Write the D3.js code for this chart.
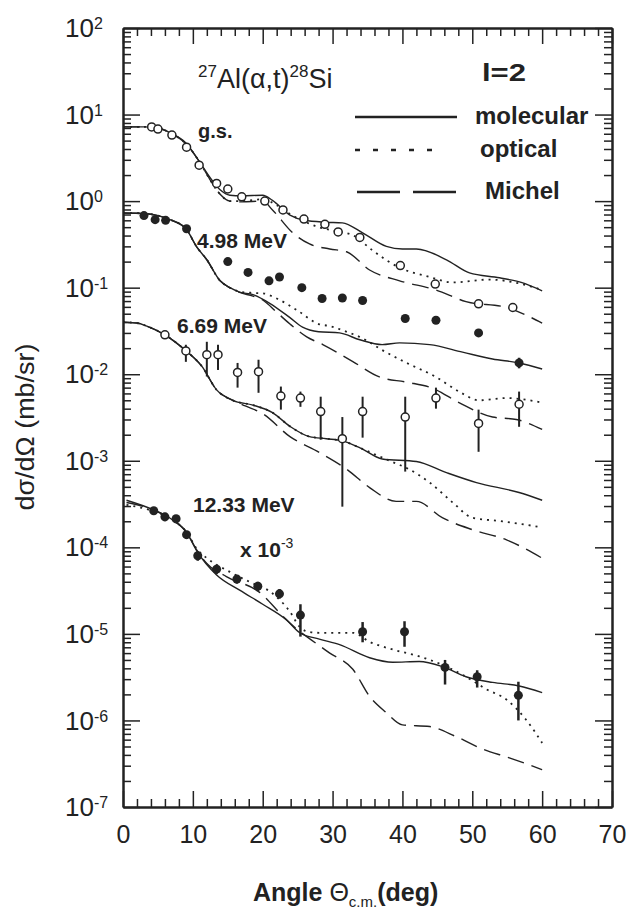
<!DOCTYPE html>
<html>
<head>
<meta charset="utf-8">
<script src="https://cdn.jsdelivr.net/npm/d3@7"></script>
<style>
body { margin: 0; background: #fff; }
svg { display: block; font-family: "Liberation Sans", Arial, sans-serif; }
</style>
</head>
<body>
<div id="chart-area"></div>
<script>
// DATA (angle in deg, cross section in mb/sr)
var gsAng = [4.1, 5, 7, 9.1, 10.9, 13.4, 15, 17, 20.3, 22.9, 25.9, 28.9, 30.8, 33.9, 39.7, 44.7, 50.9, 55.8];
var gsVal = [7.2, 6.8, 5.8, 4.2, 2.6, 1.6, 1.38, 1.12, 1.0, 0.79, 0.62, 0.54, 0.44, 0.38, 0.18, 0.11, 0.065, 0.059];

var m498Ang = [3, 4.6, 6.1, 9.1, 15, 17.9, 20.9, 22.4, 25.6, 28.5, 31.4, 34.3, 40.4, 44.8, 50.9, 56.7];
var m498Val = [0.68, 0.61, 0.6, 0.48, 0.2, 0.15, 0.12, 0.133, 0.1, 0.075, 0.076, 0.071, 0.044, 0.042, 0.03, 0.0135];
var m498Lo = [null, null, null, null, null, null, null, null, null, null, null, null, null, null, null, 0.0117];
var m498Hi = [null, null, null, null, null, null, null, null, null, null, null, null, null, null, null, 0.0155];

var m669Ang = [6, 9, 12, 13.6, 16.4, 19.4, 22.6, 25.4, 28.3, 31.4, 34.3, 40.4, 44.8, 50.9, 56.7];
var m669Val = [0.0285, 0.0186, 0.0168, 0.0168, 0.0105, 0.0107, 0.0056, 0.0053, 0.0037, 0.0018, 0.0037, 0.0032, 0.0053, 0.0027, 0.0045];
var m669Lo = [0.026, 0.0139, 0.0094, 0.0112, 0.0070, 0.0061, 0.0039, 0.0042, 0.00175, 0.000295, 0.00185, 0.00075, 0.0040, 0.00127, 0.00247];
var m669Hi = [0.031, 0.0219, 0.0237, 0.0219, 0.0135, 0.0147, 0.0072, 0.0063, 0.0055, 0.0032, 0.0055, 0.0055, 0.0070, 0.0039, 0.0063];

var m1233Ang = [4.4, 6, 7.6, 9.1, 10.7, 13.4, 16.3, 19.3, 22.4, 25.4, 34.3, 40.3, 46.1, 50.7, 56.6];
var m1233Val = [0.000265, 0.000225, 0.000214, 0.00014, 8e-5, 5.6e-5, 4.3e-5, 3.55e-5, 2.9e-5, 1.65e-5, 1.06e-5, 1.06e-5, 4.1e-6, 3.2e-6, 1.95e-6];
var m1233Lo = [0.00024, 0.0002, 0.00019, 0.000125, 7e-5, 4.9e-5, 3.8e-5, 3.1e-5, 2.55e-5, 9.3e-6, 8.0e-6, 7.1e-6, 2.6e-6, 2.4e-6, 1.0e-6];
var m1233Hi = [0.00029, 0.00025, 0.000235, 0.000155, 9e-5, 6.3e-5, 4.8e-5, 4.0e-5, 3.3e-5, 2.2e-5, 1.37e-5, 1.4e-5, 5.0e-6, 3.8e-6, 2.8e-6];

// calculated curves [angle, value]
var gsMol = [[0, 7.2], [3, 7.2], [5, 7.0], [7, 6.0], [9, 4.7], [11, 2.8], [12.4, 1.9], [13.9, 1.35], [15.3, 1.17], [17, 1.15], [20, 1.17], [21.4, 1.02], [23.9, 0.69], [26, 0.6], [29, 0.57], [31.4, 0.56], [34.3, 0.43], [37.7, 0.30], [40, 0.28], [42, 0.28], [46.3, 0.21], [49.6, 0.148], [53.9, 0.13], [57, 0.115], [60, 0.092]];
var gsOpt = [[0, 7.2], [3, 7.2], [5, 7.0], [7, 6.0], [9, 4.6], [11, 2.8], [12.4, 1.8], [13.9, 1.2], [15.3, 1.0], [17, 1.0], [20, 1.05], [22, 0.9], [24, 0.7], [26, 0.58], [28, 0.5], [30.5, 0.45], [33, 0.4], [35.7, 0.27], [39.6, 0.17], [43.9, 0.133], [47.1, 0.115], [52.4, 0.124], [56.7, 0.112], [60, 0.094]];
var gsMic = [[0, 7.2], [3, 7.2], [5, 7.0], [7, 6.0], [9, 4.6], [11, 2.8], [12.4, 1.8], [13.9, 1.2], [15.3, 1.0], [17, 0.98], [20, 1.0], [21.4, 0.79], [24.3, 0.43], [26.7, 0.32], [29.6, 0.28], [32, 0.26], [35.3, 0.16], [39.6, 0.12], [44.8, 0.094], [49.1, 0.069], [54.9, 0.059], [60, 0.039]];

var m498Mol = [[0, 0.73], [3, 0.72], [5, 0.68], [7, 0.6], [9.1, 0.47], [10.5, 0.3], [12, 0.21], [13.9, 0.12], [15.3, 0.1], [16.7, 0.089], [18.6, 0.083], [21, 0.066], [23.9, 0.045], [25.7, 0.035], [28, 0.031], [31, 0.030], [33.9, 0.025], [37.1, 0.022], [39.6, 0.023], [43.9, 0.022], [48.6, 0.018], [52.9, 0.015], [56.7, 0.0135], [60, 0.0115]];
var m498Opt = [[0, 0.73], [3, 0.72], [5, 0.68], [7, 0.6], [9.1, 0.47], [10.5, 0.3], [12, 0.21], [13.9, 0.12], [15.3, 0.1], [16.7, 0.09], [18.6, 0.087], [20, 0.086], [22, 0.075], [24.9, 0.055], [28, 0.038], [29.6, 0.036], [31.5, 0.032], [34.3, 0.026], [37.1, 0.019], [40.6, 0.0135], [44.8, 0.0093], [48.1, 0.0063], [51, 0.005], [54.9, 0.0053], [60, 0.0047]];
var m498Mic = [[0, 0.73], [3, 0.72], [5, 0.68], [7, 0.6], [9.1, 0.47], [10.5, 0.3], [12, 0.21], [13.9, 0.12], [15.3, 0.1], [16.7, 0.088], [18.6, 0.08], [20, 0.072], [22, 0.052], [23.9, 0.038], [26.3, 0.027], [28.6, 0.022], [32.9, 0.014], [36.7, 0.0093], [40.6, 0.0081], [44.3, 0.0069], [48.1, 0.0047], [52.9, 0.0032], [56.3, 0.003], [60, 0.0023]];

var m669Mol = [[0, 0.040], [2, 0.039], [3.4, 0.036], [6, 0.0285], [8.9, 0.019], [11.3, 0.0123], [13.4, 0.0066], [15.7, 0.005], [18.6, 0.0044], [21.4, 0.0036], [23.9, 0.0025], [26.7, 0.0019], [29.1, 0.0018], [31.4, 0.0017], [34, 0.0014], [37.1, 0.00105], [42, 0.00098], [46.3, 0.00073], [50.6, 0.00056], [56.7, 0.00043], [60, 0.00035]];
var m669Opt = [[0, 0.040], [2, 0.039], [3.4, 0.036], [6, 0.0285], [8.9, 0.019], [11.3, 0.0123], [13.4, 0.0066], [15.7, 0.005], [18.6, 0.0044], [21.4, 0.0036], [23.9, 0.0025], [26.7, 0.0019], [29.1, 0.0018], [31.4, 0.0017], [34, 0.0014], [38.4, 0.00098], [40.8, 0.00081], [43.9, 0.00056], [47.2, 0.00033], [50, 0.00022], [54.3, 0.0002], [60, 0.00017]];
var m669Mic = [[0, 0.040], [2, 0.039], [3.4, 0.036], [6, 0.0285], [8.9, 0.019], [11.3, 0.0123], [13.4, 0.0066], [15.7, 0.005], [17.5, 0.0043], [20, 0.0035], [23.9, 0.0019], [28.1, 0.00125], [32, 0.0008], [35.3, 0.00049], [39.1, 0.00034], [42, 0.00034], [45.7, 0.00022], [50, 0.00016], [54.9, 0.000122], [60, 7.5e-5]];

var m1233Mol = [[0.5, 0.00035], [4.4, 0.00027], [7, 0.00021], [9.1, 0.000148], [10.6, 9e-5], [13.4, 4.8e-5], [16.7, 3.2e-5], [20, 2.2e-5], [23.4, 1.45e-5], [25.3, 1.03e-5], [28.1, 8.7e-6], [31, 7.5e-6], [35.3, 5.3e-6], [38.6, 4.7e-6], [42.4, 4.8e-6], [45.7, 4.2e-6], [49.1, 3.2e-6], [52.9, 2.75e-6], [56.7, 2.5e-6], [60, 2.1e-6]];
var m1233Opt = [[0.5, 0.00031], [4.4, 0.00026], [7, 0.00021], [9.1, 0.00015], [10.6, 9.5e-5], [12.1, 7.4e-5], [15.3, 5.2e-5], [18.1, 4.0e-5], [21, 3.1e-5], [23.9, 1.8e-5], [25.3, 1.2e-5], [26.7, 1.05e-5], [28.1, 1.03e-5], [32.9, 1.03e-5], [35.3, 8.1e-6], [38.6, 6.6e-6], [42.4, 5.5e-6], [45.7, 4.4e-6], [49.1, 3.2e-6], [52, 2.3e-6], [54.9, 1.74e-6], [57.7, 1.02e-6], [60, 5.5e-7]];
var m1233Mic = [[0.5, 0.00033], [4.4, 0.00027], [7, 0.00021], [9.1, 0.00015], [10.6, 9.2e-5], [12, 6.5e-5], [14.8, 4.6e-5], [19.6, 3.0e-5], [22.9, 1.6e-5], [24.9, 1.13e-5], [26.3, 9.3e-6], [29.6, 6e-6], [32.9, 3.9e-6], [35.3, 1.9e-6], [37.7, 1.23e-6], [40, 8.9e-7], [43.9, 8.5e-7], [47.7, 6.5e-7], [51.4, 4.7e-7], [55.3, 3.7e-7], [60, 2.7e-7]];

var xMajor = [0, 10, 20, 30, 40, 50, 60, 70];
var yExp = [-7, -6, -5, -4, -3, -2, -1, 0, 1, 2];

//INITIAL SETUP
var margin = {top: 28, right: 17, bottom: 102, left: 123};
var width = 629 - margin.left - margin.right;
var height = 909 - margin.top - margin.bottom;
var ink = '#222';

var svg = d3.select('#chart-area')
	.append('svg')
	.attr('width', 629)
	.attr('height', 909);
var graph = svg.append('g')
	.attr('transform', 'translate(' + margin.left + ',' + margin.top + ')');

//SCALES
var x = d3.scaleLinear().domain([0, 70]).range([0, width]);
var y = d3.scaleLog().domain([1e-7, 1e2]).range([height, 0]);

var xMinor = d3.range(0, 71, 2).filter(function (d) { return d % 10 !== 0; });
var yMajor = yExp.map(function (p) { return Math.pow(10, p); });
var yMinor = [];
yExp.slice(0, -1).forEach(function (p) {
	for (var m = 2; m <= 9; m++) yMinor.push(m * Math.pow(10, p));
});

//FRAME AXES (ticks point inward)
function frame(axis, vals, size, tr) {
	var g = graph.append('g').attr('transform', tr)
		.call(axis.tickValues(vals).tickSize(size).tickSizeOuter(0).tickFormat(''));
	g.select('.domain').attr('stroke', ink).attr('stroke-width', 2);
	g.selectAll('.tick line').attr('stroke', ink).attr('stroke-width', 1.5);
}
frame(d3.axisRight(y), yMajor, 17, 'translate(0,0)');
frame(d3.axisRight(y), yMinor, 8, 'translate(0,0)');
frame(d3.axisLeft(y), yMajor, 17, 'translate(' + width + ',0)');
frame(d3.axisLeft(y), yMinor, 8, 'translate(' + width + ',0)');
frame(d3.axisBottom(x), xMajor, 16, 'translate(0,0)');
frame(d3.axisBottom(x), xMinor, 8, 'translate(0,0)');
frame(d3.axisTop(x), xMajor, 16, 'translate(0,' + height + ')');
frame(d3.axisTop(x), xMinor, 8, 'translate(0,' + height + ')');

//TICK LABELS
var xLab = graph.append('g')
	.attr('transform', 'translate(0,' + height + ')')
	.call(d3.axisBottom(x).tickValues(xMajor).tickSize(0).tickPadding(18));
xLab.select('.domain').remove();
xLab.selectAll('text').attr('font-size', '25px').attr('fill', ink)
	.attr('font-family', '"Liberation Sans", Arial, sans-serif');

var yLab = graph.selectAll('.ylab')
	.data(yExp)
	.enter()
	.append('text')
	.attr('class', 'ylab')
	.attr('x', -58)
	.attr('y', function (d) { return y(Math.pow(10, d)); })
	.attr('dy', '0.35em')
	.attr('fill', ink)
	.attr('font-size', '26px');
yLab.append('tspan').text('10');
yLab.append('tspan').attr('dy', -8).attr('font-size', '16px')
	.text(function (d) { return d < 0 ? '-' + (-d) : d; });

//AXIS TITLES
var xTitle = graph.append('text')
	.attr('x', 130)
	.attr('y', height + 94)
	.attr('font-size', '25px')
	.attr('font-weight', 'bold')
	.attr('fill', ink);
xTitle.append('tspan').text('Angle ');
xTitle.append('tspan').attr('font-weight', 'normal').text('\u0398');
xTitle.append('tspan').attr('dy', 6).attr('font-size', '15px').attr('font-weight', 'normal').text('c.m.');
xTitle.append('tspan').attr('dy', -6).text('(deg)');

graph.append('text')
	.attr('transform', 'translate(-89,' + 399 + ') rotate(-90)')
	.attr('text-anchor', 'middle')
	.attr('font-size', '26px')
	.attr('fill', ink)
	.attr('textLength', 167)
	.attr('lengthAdjust', 'spacingAndGlyphs')
	.text('d\u03c3/d\u03a9 (mb/sr)');

//CURVES
var line = d3.line()
	.x(function (d) { return x(d[0]); })
	.y(function (d) { return y(d[1]); })
	.curve(d3.curveMonotoneX);

var styles = {mol: null, opt: '2,5', mic: '17,8'};
var curves = [
	[gsMol, 'mol'], [gsOpt, 'opt'], [gsMic, 'mic'],
	[m498Mol, 'mol'], [m498Opt, 'opt'], [m498Mic, 'mic'],
	[m669Mol, 'mol'], [m669Opt, 'opt'], [m669Mic, 'mic'],
	[m1233Mol, 'mol'], [m1233Opt, 'opt'], [m1233Mic, 'mic']
];
graph.selectAll('.curve')
	.data(curves)
	.enter()
	.append('path')
	.attr('class', 'curve')
	.attr('d', function (d) { return line(d[0]); })
	.attr('fill', 'none')
	.attr('stroke', ink)
	.attr('stroke-width', function (d) { return d[1] === 'opt' ? 1.8 : 1.4; })
	.attr('stroke-dasharray', function (d) { return styles[d[1]]; });

//DATA POINTS
function points(ang, val, lo, hi, filled) {
	var rows = ang.map(function (a, i) {
		return {a: a, v: val[i], lo: lo ? lo[i] : null, hi: hi ? hi[i] : null};
	});
	var g = graph.append('g');
	g.selectAll('line')
		.data(rows.filter(function (d) { return d.lo !== null; }))
		.enter()
		.append('line')
		.attr('x1', function (d) { return x(d.a); })
		.attr('x2', function (d) { return x(d.a); })
		.attr('y1', function (d) { return y(d.lo); })
		.attr('y2', function (d) { return y(d.hi); })
		.attr('stroke', ink)
		.attr('stroke-width', filled ? 2.5 : 2);
	g.selectAll('circle')
		.data(rows)
		.enter()
		.append('circle')
		.attr('cx', function (d) { return x(d.a); })
		.attr('cy', function (d) { return y(d.v); })
		.attr('r', filled ? 4.5 : 4)
		.attr('fill', filled ? ink : '#fff')
		.attr('stroke', ink)
		.attr('stroke-width', filled ? 0 : 1.5);
}
points(gsAng, gsVal, null, null, false);
points(m498Ang, m498Val, m498Lo, m498Hi, true);
points(m669Ang, m669Val, m669Lo, m669Hi, false);
points(m1233Ang, m1233Val, m1233Lo, m1233Hi, true);

//ANNOTATIONS
var title = graph.append('text').attr('x', 75).attr('y', 60)
	.attr('font-size', '27px').attr('fill', ink);
title.append('tspan').attr('dy', -11).attr('font-size', '17px').text('27');
title.append('tspan').attr('dy', 11).text('Al(\u03b1,t)');
title.append('tspan').attr('dy', -11).attr('font-size', '17px').text('28');
title.append('tspan').attr('dy', 11).text('Si');

graph.append('text').attr('x', 359).attr('y', 53)
	.attr('font-size', '24px').attr('font-weight', 'bold').attr('fill', ink)
	.attr('textLength', 44).attr('lengthAdjust', 'spacingAndGlyphs')
	.text('l=2');

var legend = [
	{label: 'molecular', key: 'mol', y: 89, x1: 232, x2: 334, tx: 352, dash: null},
	{label: 'optical', key: 'opt', y: 122, x1: 232, x2: 322, tx: 357, dash: '5,13'},
	{label: 'Michel', key: 'mic', y: 164, x1: 234, x2: 334, tx: 362, dash: '43,13'}
];
var lg = graph.selectAll('.legend')
	.data(legend)
	.enter()
	.append('g')
	.attr('class', 'legend');
lg.append('line')
	.attr('x1', function (d) { return d.x1; })
	.attr('x2', function (d) { return d.x2; })
	.attr('y1', function (d) { return d.y; })
	.attr('y2', function (d) { return d.y; })
	.attr('stroke', ink)
	.attr('stroke-width', 2.5)
	.attr('stroke-dasharray', function (d) { return d.dash; });
lg.append('text')
	.attr('x', function (d) { return d.tx; })
	.attr('y', function (d) { return d.y + 7; })
	.attr('font-size', '24px')
	.attr('font-weight', 'bold')
	.attr('fill', ink)
	.text(function (d) { return d.label; });

var labels = [
	{t: 'g.s.', x: 75, y: 110, s: 20},
	{t: '4.98 MeV', x: 74, y: 220, s: 21},
	{t: '6.69 MeV', x: 54, y: 305, s: 21},
	{t: '12.33 MeV', x: 70, y: 484, s: 21}
];
graph.selectAll('.state')
	.data(labels)
	.enter()
	.append('text')
	.attr('class', 'state')
	.attr('x', function (d) { return d.x; })
	.attr('y', function (d) { return d.y; })
	.attr('font-size', function (d) { return d.s + 'px'; })
	.attr('font-weight', 'bold')
	.attr('fill', ink)
	.text(function (d) { return d.t; });

var scaleNote = graph.append('text').attr('x', 117).attr('y', 529)
	.attr('font-size', '21px').attr('font-weight', 'bold').attr('fill', ink);
scaleNote.append('tspan').text('x 10');
scaleNote.append('tspan').attr('dy', -9).attr('font-size', '14px').attr('font-weight', 'normal').text('-3');
</script>
</body>
</html>
